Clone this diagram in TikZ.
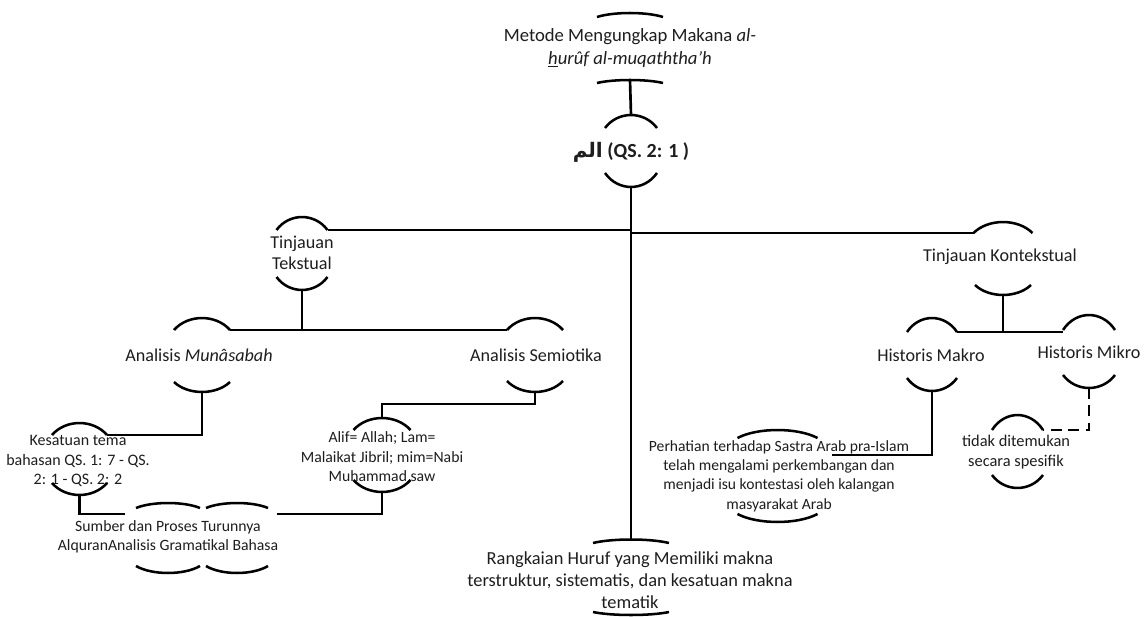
\documentclass[tikz,border=0pt]{standalone}
\usepackage{fontspec}
\setmainfont{Carlito}
\newfontfamily\arabicfont[Script=Arabic]{DejaVu Sans}
\TeXXeTstate=1
\definecolor{txtc}{RGB}{30,30,30}
\newcommand\fsz[2]{\fontsize{#1}{#2}\selectfont}
% #1 node, #2 label, #3 dx, #4 half-width, #5 dy of ends, #6 sagitta (+ = up)
\newcommand\tcap[6]{%
  \path (#1.center) ++(#3,#5) coordinate (#2-m0) ++(-#4,0) coordinate (#2-l) ++({2*#4},0) coordinate (#2-r);
  \path (#2-m0) ++(0,{-(#6)}) coordinate (#2-m);
  \path (#2-l) ++({0.5*#4},{-1.33*(#6)}) coordinate (#2-c1);
  \path (#2-r) ++({-0.5*#4},{-1.33*(#6)}) coordinate (#2-c2);
  \draw[arcl] (#2-l) .. controls (#2-c1) and (#2-c2) .. (#2-r);
}
\begin{document}
\begin{tikzpicture}[x=0.75pt,y=-0.75pt,
  lbl/.style={inner sep=0pt, align=center, text=txtc},
  midf/.style={lbl, font=\fsz{13.6}{15.75}},
  smallf/.style={lbl, font=\fsz{11.8}{14.6}},
  bigf/.style={lbl, font=\fsz{14}{17}},
  arcl/.style={line width=1.9pt},
  conn/.style={line width=2pt},
  dconn/.style={line width=2pt, dash pattern=on 8pt off 5pt}]
\useasboundingbox[fill=white] (0,0) rectangle (1146,617);

% nodes
\node[bigf] (root) at (630,48) {Metode Mengungkap Makana \textit{al-}\\\underline{\textit{h}}\textit{urûf al-muqaththa’h}};
\node[lbl, font=\fsz{15}{18}\bfseries] (qs) at (631,152) {{\arabicfont\bfseries\beginR الم\endR} (QS. 2: 1 )};
\node[midf] (tt) at (302,253) {Tinjauan\\Tekstual};
\node[midf] (tk) at (1000,257) {Tinjauan Kontekstual};
\node[midf] (am) at (199,355) {Analisis \textit{Munâsabah}};
\node[midf] (as) at (536,355) {Analisis Semiotika};
\node[midf] (hma) at (931,355) {Historis Makro};
\node[midf] (hmi) at (1089,352) {Historis Mikro};
\node[smallf, font=\fsz{12}{14.6}] (kes) at (78,461) {Kesatuan tema\\bahasan QS. 1: 7 - QS.\\2: 1 - QS. 2: 2};
\node[smallf] (alif) at (382,457) {Alif= Allah; Lam=\\Malaikat Jibril; mim=Nabi\\Muhammad saw};
\node[lbl, font=\fsz{11.8}{14.4}] (sum) at (168,537) {Sumber dan Proses Turunnya\\AlquranAnalisis Gramatikal Bahasa};
\node[lbl, font=\fsz{13.8}{16.5}] (rk) at (630,580) {Rangkaian Huruf yang Memiliki makna\\terstruktur, sistematis, dan kesatuan makna\\tematik};
\node[lbl, font=\fsz{11.7}{14.5}] (perh) at (779,476) {Perhatian terhadap Sastra Arab pra-Islam\\telah mengalami perkembangan dan\\menjadi isu kontestasi oleh kalangan\\masyarakat Arab};
\node[lbl, font=\fsz{12.3}{15}] (tdk) at (1016,452) {tidak ditemukan\\secara spesifik};

% caps
\tcap{root}{root-t}{0}{33}{-31}{4}
\tcap{root}{root-b}{0}{33}{35}{3}
\tcap{qs}{qs-t}{0}{26}{-24}{13}
\tcap{qs}{qs-b}{0}{26}{21}{-14}
\tcap{tt}{tt-t}{0}{25.5}{-23}{13}
\tcap{tt}{tt-b}{0}{25.5}{24}{-13}
\tcap{tk}{tk-t}{3}{29.5}{-24}{11}
\tcap{tk}{tk-b}{3}{28}{28}{-10}
\tcap{am}{am-t}{3}{28}{-25}{12}
\tcap{am}{am-b}{3}{28}{27}{-10}
\tcap{as}{as-t}{-1}{28}{-25}{12}
\tcap{as}{as-b}{-1}{28}{26}{-11}
\tcap{hma}{hma-t}{1}{25}{-23}{14}
\tcap{hma}{hma-b}{1}{25}{23}{-13}
\tcap{hmi}{hmi-t}{0}{26}{-22}{15}
\tcap{hmi}{hmi-b}{0}{26}{23}{-13}
\tcap{kes}{kes-t}{1.5}{27.5}{-26}{12}
\tcap{kes}{kes-b}{1.5}{27.5}{22}{-12}
\tcap{alif}{alif-t}{0}{28.5}{-27}{12}
\tcap{alif}{alif-b}{0}{28.5}{23}{-12}
\tcap{sum}{sumA-t}{0}{32}{-29}{5}
\tcap{sum}{sumA-b}{0}{32}{29}{-7}
\tcap{sum}{sumB-t}{69}{31}{-29}{5}
\tcap{sum}{sumB-b}{69}{31}{29}{-7}
\tcap{rk}{rk-t}{1}{38}{-37}{3.5}
\tcap{rk}{rk-b}{1}{38}{32}{-3}
\tcap{perh}{perh-t}{-1.5}{40}{-38}{8}
\tcap{perh}{perh-b}{-1.5}{40}{38}{-8}
\tcap{tdk}{tdk-t}{1.5}{25.5}{-22}{15}
\tcap{tdk}{tdk-b}{1.5}{25.5}{23}{-13}

% free ends
\path (sum.center) ++(-43,-23) coordinate (sumL);
\path (sum.center) ++(109,-23) coordinate (sumR);
\path (perh.center) ++(53,-21) coordinate (perhE);

% connectors
\draw[conn] (root-b-m) -- (qs-t-m);
\draw[conn] (qs-b-m) -- (rk-t-m);
\draw[conn] (tt-t-r) -- (tt-t-r -| qs-b-m);
\draw[conn] (tk-t-l -| qs-b-m) -- (tk-t-l);
\draw[conn] (tt-b-m) -- (tt-b-m |- am-t-r);
\draw[conn] (am-t-r) -- (as-t-l |- am-t-r);
\draw[conn] (am-b-m) |- (kes-t-r);
\draw[conn] (as-b-m) -- ++(0,12) -| (alif-t-m);
\draw[conn] (alif-b-m) |- (sumR);
\draw[conn] (kes-b-m) |- (sumL);
\draw[conn] (tk-b-m) -- (tk-b-m |- hma-t-r);
\draw[conn] (hma-t-r) -- (hmi-t-l |- hma-t-r);
\draw[conn] (hma-b-m) |- (perhE);
\draw[dconn] (hmi-b-m) |- (tdk-t-r);
\end{tikzpicture}
\end{document}
